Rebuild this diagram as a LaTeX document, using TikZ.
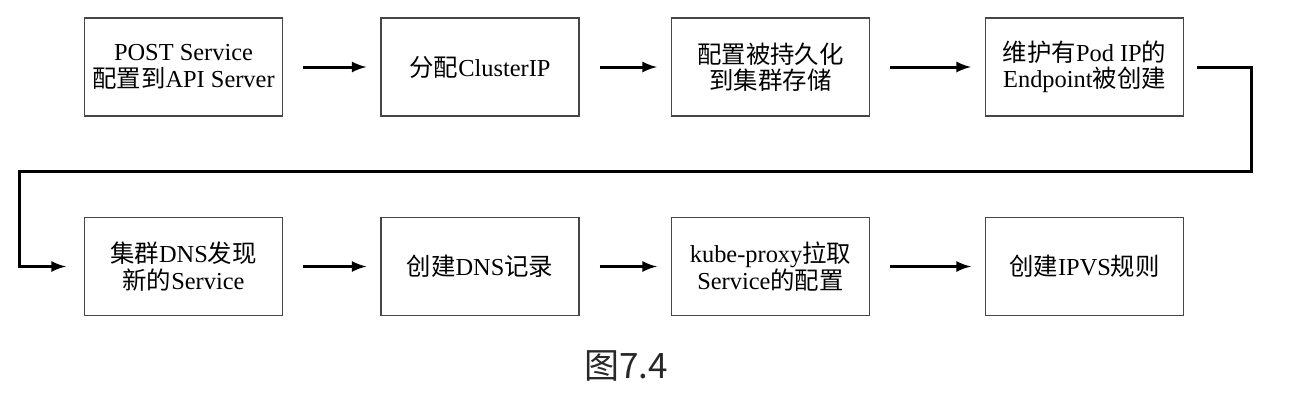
\documentclass[tikz,border=0pt]{standalone}
\usepackage{fontspec}
\setmainfont{Liberation Serif}
\newfontfamily\cjk{Noto Sans CJK SC}
\usepackage{tikz}
\usetikzlibrary{arrows,shapes,positioning}
\usepackage{xcolor}
\definecolor{boxgray}{RGB}{70,70,70}
\definecolor{capgray}{RGB}{40,40,40}
\newcommand{\zh}[1]{{\cjk #1}}
\tikzstyle{procbox} = [draw=boxgray, line width=0.6pt, minimum width=99pt, minimum height=49pt, align=center, inner sep=1pt, font=\fontsize{12.2}{13.2}\selectfont]
\tikzstyle{arrow} = [line width=1.5pt,->,>=latex,color=black]

\begin{document}
\begin{tikzpicture}[x=0.5pt, y=-0.5pt]
\useasboundingbox (0,0) rectangle (1294,402);
% Top row
\node[procbox] (b1) at (183.5,67) {POST Service\\\zh{配置到}API Server};
\node[procbox] (b2) at (480,67) {\zh{分配}ClusterIP};
\node[procbox] (b3) at (770.5,67) {\zh{配置被持久化}\\\zh{到集群存储}};
\node[procbox] (b4) at (1084.5,67) {\zh{维护有}Pod IP\zh{的}\\Endpoint\zh{被创建}};
% Bottom row
\node[procbox] (b5) at (183.5,266.5) {\zh{集群}DNS\zh{发现}\\\zh{新的}Service};
\node[procbox] (b6) at (480,266.5) {\zh{创建}DNS\zh{记录}};
\node[procbox] (b7) at (770.5,266.5) {kube-proxy\zh{拉取}\\Service\zh{的配置}};
\node[procbox] (b8) at (1084.5,266.5) {\zh{创建}IPVS\zh{规则}};

% Arrows between boxes
\draw[arrow, shorten <=10pt, shorten >=7pt] (b1) -- (b2);
\draw[arrow, shorten <=10pt, shorten >=7pt] (b2) -- (b3);
\draw[arrow, shorten <=10pt, shorten >=7pt] (b3) -- (b4);
\draw[arrow, shorten <=10pt, shorten >=7pt] (b5) -- (b6);
\draw[arrow, shorten <=10pt, shorten >=7pt] (b6) -- (b7);
\draw[arrow, shorten <=10pt, shorten >=7pt] (b7) -- (b8);

% Wrap to the second row
\coordinate (turnR) at (1251,171);
\coordinate (turnL) at (19,171);
\draw[arrow, shorten <=6.5pt, shorten >=9pt] (b4.east) -| (turnR) -- (turnL) |- (b5.west);

% Caption
\node[font=\cjk\fontsize{17.5}{20}\selectfont, text=capgray] (cap) at (626,366) {图7.4};
\end{tikzpicture}
\end{document}
